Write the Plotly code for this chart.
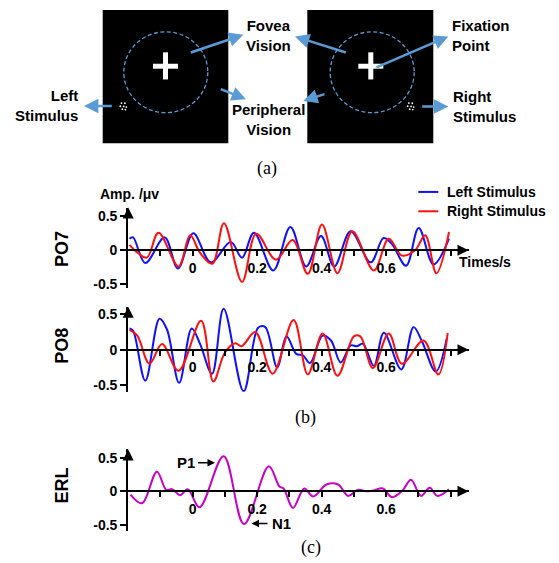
import plotly.graph_objects as go

W, H = 559, 563

# ------------------------------------------------------------------ data
time_ticks = [-0.1, 0.0, 0.1, 0.2, 0.3, 0.4, 0.5, 0.6, 0.7, 0.8]
time_tick_labels = ['', '0', '', '0.2', '', '0.4', '', '0.6', '', '']
amp_ticks = [-0.5, 0.0, 0.5]
amp_tick_labels = ['-0.5', '0', '0.5']
series_names = ['Left Stimulus', 'Right Stimulus']
channel_names = ['PO7', 'PO8', 'ERL']

po7_left_t = [-0.196, -0.185, -0.147, -0.087, -0.046, 0.002, 0.056, 0.118, 0.153, 0.190,
              0.250, 0.303, 0.352, 0.398, 0.439, 0.490, 0.552, 0.592, 0.618, 0.662,
              0.701, 0.747, 0.795]
po7_left_v = [0.17, 0.19, -0.19, 0.19, -0.27, 0.25, -0.18, 0.12, -0.11, 0.26,
              -0.30, 0.345, -0.24, 0.21, -0.24, 0.28, -0.18, 0.18, 0.09, -0.23,
              0.33, -0.21, 0.17]

po7_right_t = [-0.196, -0.170, -0.142, -0.106, -0.044, -0.008, 0.023, 0.061, 0.097, 0.153,
               0.197, 0.258, 0.310, 0.357, 0.401, 0.449, 0.495, 0.562, 0.608, 0.649,
               0.690, 0.721, 0.756, 0.795]
po7_right_v = [0.08, -0.04, -0.11, 0.26, -0.24, 0.22, -0.04, -0.20, 0.40, -0.47,
               0.245, -0.14, 0.15, -0.35, 0.38, -0.34, 0.28, -0.30, 0.17, -0.08,
               0.00, 0.22, -0.34, 0.27]

po8_left_t = [-0.196, -0.185, -0.147, -0.103, -0.080, -0.042, -0.003, 0.023, 0.060, 0.096,
              0.158, 0.203, 0.225, 0.262, 0.291, 0.321, 0.342, 0.364, 0.403, 0.429,
              0.459, 0.490, 0.510, 0.528, 0.562, 0.593, 0.647, 0.685, 0.711, 0.754,
              0.788]
po8_left_v = [0.30, 0.27, -0.44, 0.44, 0.29, -0.47, 0.30, 0.08, -0.34, 0.58,
              -0.59, 0.31, 0.32, -0.25, 0.19, -0.06, -0.08, -0.19, 0.20, 0.13,
              -0.18, 0.06, 0.05, 0.085, -0.23, 0.24, -0.28, 0.32, 0.12, -0.31,
              0.16]

po8_right_t = [-0.196, -0.172, -0.134, -0.095, -0.044, 0.026, 0.064, 0.100, 0.132, 0.152,
               0.194, 0.248, 0.313, 0.357, 0.403, 0.449, 0.500, 0.520, 0.559, 0.608,
               0.649, 0.716, 0.762, 0.791]
po8_right_v = [0.28, 0.20, -0.20, 0.08, -0.30, 0.41, -0.45, -0.04, 0.09, 0.05,
               0.25, -0.34, 0.42, -0.35, 0.23, -0.37, 0.19, 0.19, -0.26, 0.23,
               -0.20, 0.13, -0.35, 0.24]

erl_t = [-0.193, -0.157, -0.111, -0.082, -0.064, -0.039, -0.015, 0.021, 0.096, 0.159,
         0.236, 0.269, 0.282, 0.311, 0.346, 0.374, 0.415, 0.451, 0.482, 0.513,
         0.538, 0.560, 0.590, 0.618, 0.651, 0.677, 0.708, 0.735, 0.759, 0.795]
erl_v = [-0.05, -0.18, 0.29, 0.02, 0.03, -0.06, 0.03, -0.24, 0.52, -0.49,
         0.37, 0.07, 0.04, -0.25, 0.04, -0.08, 0.10, 0.10, -0.07, 0.02,
         0.00, 0.01, 0.04, -0.09, 0.01, 0.17, -0.07, 0.05, -0.07, 0.03]

# ------------------------------------------------------------------ style / layout helpers
SANS = 'Liberation Sans, Arial, sans-serif'
SERIF = 'Liberation Serif, Times New Roman, serif'
BLUE = '#1010FF'
RED = '#FF1010'
MAGENTA = '#C800C8'
ABLUE = '#5B9BD5'


def PX(x):
    return x / W


def PY(y):
    return 1 - y / H


X0_PX, X_UNIT = 192.7, 322.4
XL_PX, XR_PX = 128.2, 468.5
x_range = [(XL_PX - X0_PX) / X_UNIT, (XR_PX - X0_PX) / X_UNIT]
x_domain = [PX(XL_PX), PX(XR_PX)]


def channel_geom(zero_px, unit_px, top_px, bot_px):
    yr = [(zero_px - bot_px) / unit_px, (zero_px - top_px) / unit_px]
    dom = [PY(bot_px), PY(top_px)]
    return yr, dom, PY(zero_px)


geoms = [channel_geom(252.0, 68.0, 209.0, 290.0),
         channel_geom(352.2, 71.0, 309.0, 394.5),
         channel_geom(494.7, 67.6, 452.7, 535.0)]

fig = go.Figure()

traces = [
    (po7_left_t, po7_left_v, BLUE, 1, series_names[0]),
    (po7_right_t, po7_right_v, RED, 1, series_names[1]),
    (po8_left_t, po8_left_v, BLUE, 2, series_names[0]),
    (po8_right_t, po8_right_v, RED, 2, series_names[1]),
    (erl_t, erl_v, MAGENTA, 3, channel_names[2]),
]
for t, v, col, k, name in traces:
    sfx = '' if k == 1 else str(k)
    fig.add_trace(go.Scatter(x=t, y=v, mode='lines', name=name,
                             line=dict(color=col, width=2, shape='spline', smoothing=1.0),
                             xaxis='x' + sfx, yaxis='y' + sfx,
                             showlegend=False, hoverinfo='skip'))

tickfont = dict(family=SANS, size=14, color='black', weight='bold')
layout = dict(width=W, height=H, autosize=False,
              margin=dict(l=0, r=0, t=0, b=0),
              paper_bgcolor='white', plot_bgcolor='rgba(0,0,0,0)',
              showlegend=False)

annotations = []
shapes = []

for i, (yr, dom, xpos) in enumerate(geoms):
    k = i + 1
    sfx = '' if k == 1 else str(k)
    layout['xaxis' + sfx] = dict(domain=x_domain, range=x_range, anchor='free', position=xpos,
                                 showline=True, linecolor='black', linewidth=2,
                                 ticks='outside', ticklen=5, tickwidth=2, tickcolor='black',
                                 tickvals=time_ticks, ticktext=time_tick_labels,
                                 tickfont=tickfont, showgrid=False, zeroline=False,
                                 fixedrange=True)
    layout['yaxis' + sfx] = dict(domain=dom, range=yr, anchor='x' + sfx,
                                 showline=True, linecolor='black', linewidth=2,
                                 ticks='outside', ticklen=6, tickwidth=2, tickcolor='black',
                                 tickvals=amp_ticks, ticktext=amp_tick_labels,
                                 tickfont=tickfont, showgrid=False, zeroline=False,
                                 fixedrange=True)
    # axis arrow heads
    annotations.append(dict(xref='x' + sfx, yref='y' + sfx, x=x_range[0], y=yr[1],
                            ax=0, ay=12, text='', showarrow=True, arrowhead=2,
                            arrowsize=1.1, arrowwidth=2, arrowcolor='black'))
    annotations.append(dict(xref='x' + sfx, yref='y' + sfx, x=x_range[1], y=0,
                            ax=-12, ay=0, text='', showarrow=True, arrowhead=2,
                            arrowsize=1.1, arrowwidth=2, arrowcolor='black'))

# channel labels
for name, yc in zip(channel_names, [250.8, 348.3, 489.0]):
    annotations.append(dict(xref='paper', yref='paper', x=PX(62), y=PY(yc), text='<b>%s</b>' % name,
                            showarrow=False, textangle=-90,
                            font=dict(family=SANS, size=18, color='black'),
                            xanchor='center', yanchor='middle'))


def label(txt, x, y, size=14, anchor='left', family=SANS, bold=True, align=None):
    annotations.append(dict(xref='paper', yref='paper', x=PX(x), y=PY(y),
                            text=('<b>%s</b>' % txt) if bold else txt, showarrow=False,
                            font=dict(family=family, size=size, color='black'),
                            xanchor=anchor, yanchor='middle', align=align or anchor))


def arrow(tail, tip, color, width, size=1.0, head=2):
    annotations.append(dict(xref='paper', yref='paper', x=PX(tip[0]), y=PY(tip[1]),
                            ax=tail[0] - tip[0], ay=tail[1] - tip[1], axref='pixel', ayref='pixel',
                            text='', showarrow=True, arrowhead=head, arrowsize=size,
                            arrowwidth=width, arrowcolor=color, standoff=0, startstandoff=0))


# panel (b) texts
label('Amp. /μv', 98, 195)
label('Times/s', 456.5, 264)
for j, (name, col) in enumerate(zip(series_names, [BLUE, RED])):
    yy = 193.3 + 19.5 * j
    shapes.append(dict(type='line', xref='paper', yref='paper',
                       x0=PX(418.3), x1=PX(438.3), y0=PY(yy), y1=PY(yy),
                       line=dict(color=col, width=2)))
    label(name, 445, yy)

# P1 / N1 markers on ERL
label('P1', 186, 466, size=15, anchor='center')
arrow((196.5, 466), (215, 466), 'black', 1.5, size=1.0)
label('N1', 281.5, 527.3, size=15, anchor='center')
arrow((269, 527.3), (251.5, 527.3), 'black', 1.5, size=1.0)

# sub-figure captions
label('(a)', 267, 170, size=18, anchor='center', family=SERIF, bold=False)
label('(b)', 305, 420, size=18, anchor='center', family=SERIF, bold=False)
label('(c)', 311, 551, size=18, anchor='center', family=SERIF, bold=False)

# ------------------------------------------------------------------ panel (a) schematic
for (x0, x1), cx, stim in [((102.7, 228.3), 165.8, 123.3), ((307.3, 433.3), 372.2, 410.7)]:
    shapes.append(dict(type='rect', xref='paper', yref='paper', x0=PX(x0), x1=PX(x1),
                       y0=PY(144.3), y1=PY(10), fillcolor='black', line=dict(width=0), layer='below'))
    shapes.append(dict(type='circle', xref='paper', yref='paper', x0=PX(cx - 42), x1=PX(cx + 42),
                       y0=PY(113.5), y1=PY(32), line=dict(color=ABLUE, width=1.3, dash='4px,2.5px')))
    ccx = cx - 0.3 if cx < 200 else cx - 1.4
    # fixation cross
    shapes.append(dict(type='rect', xref='paper', yref='paper', x0=PX(ccx - 12.5), x1=PX(ccx + 12.5),
                       y0=PY(69.2), y1=PY(64.2), fillcolor='white', line=dict(width=0)))
    shapes.append(dict(type='rect', xref='paper', yref='paper', x0=PX(ccx - 2.5), x1=PX(ccx + 2.5),
                       y0=PY(80), y1=PY(52.7), fillcolor='white', line=dict(width=0)))
    # stimulus dots
    for dx, dy in [(-1.8, -3.2), (1.6, -3.0), (-3.0, 0.0), (0.4, 0.2), (3.0, 0.8), (-1.0, 3.0), (2.0, 3.4)]:
        shapes.append(dict(type='circle', xref='paper', yref='paper',
                           x0=PX(stim + dx - 0.9), x1=PX(stim + dx + 0.9),
                           y0=PY(107 + dy + 0.9), y1=PY(107 + dy - 0.9),
                           fillcolor='white', line=dict(width=0)))

arrow((113.3, 106.7), (84, 106.7), ABLUE, 2.5, size=1.15)
arrow((189.3, 53.3), (243.3, 35), ABLUE, 2.5, size=1.15)
arrow((219.3, 89.3), (246, 100), ABLUE, 2.5, size=1.15)
arrow((347.3, 53.3), (295, 36.7), ABLUE, 2.5, size=1.15)
arrow((326, 94.3), (303.3, 101.7), ABLUE, 2.5, size=1.15)
arrow((375, 68.3), (448.3, 36.7), ABLUE, 2.5, size=1.15)
arrow((420.7, 107.3), (448.3, 107.3), ABLUE, 2.5, size=1.15)

label('Fovea<br>Vision', 268.5, 35.5, size=15, anchor='center')
label('Peripheral<br>Vision', 268.5, 120.5, size=15, anchor='center')
label('Left<br>Stimulus', 80, 106, size=15, anchor='right')
label('Fixation<br>Point', 450, 35.5, size=15, anchor='left')
label('Right<br>Stimulus', 450.5, 107, size=15, anchor='left')

layout['annotations'] = annotations
layout['shapes'] = shapes
fig.update_layout(**layout)
fig.write_html('out.html', config={'displayModeBar': False},
               post_script="document.body.style.margin='0';document.body.style.padding='0';"
                           "document.body.style.overflow='hidden';")
